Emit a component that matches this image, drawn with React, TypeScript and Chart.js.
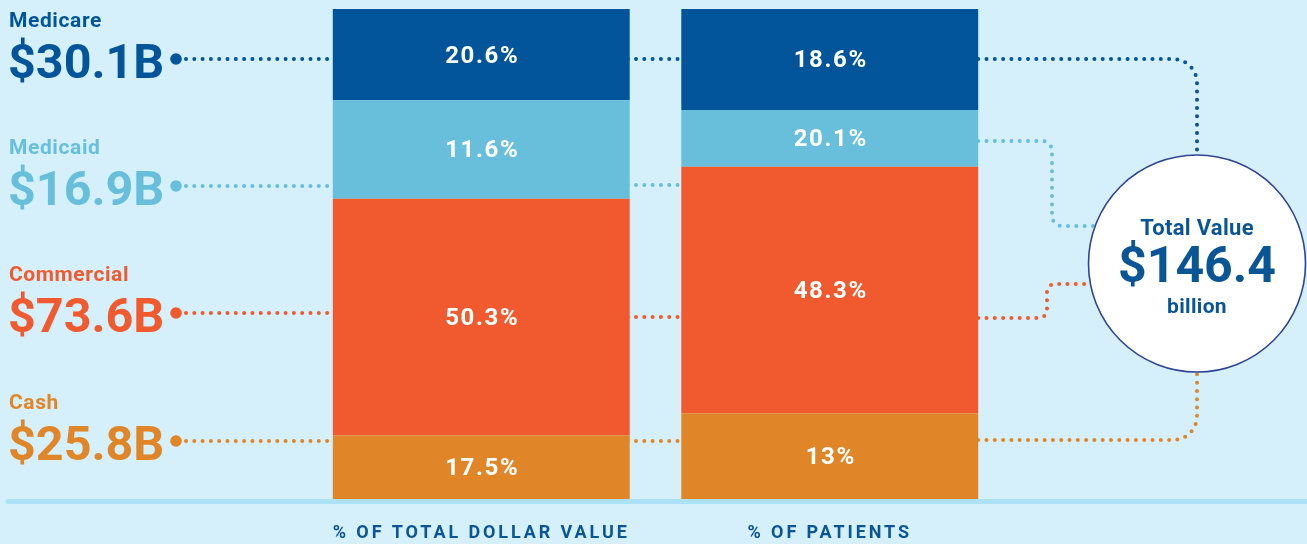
import React, { useEffect, useRef } from "react";
import { Chart, registerables } from "chart.js";

Chart.register(...registerables);

// ---- data ----
const categories = ["% OF TOTAL DOLLAR VALUE", "% OF PATIENTS"];
const payers = ["Medicare", "Medicaid", "Commercial", "Cash"];
const payerTotals = ["$30.1B", "$16.9B", "$73.6B", "$25.8B"];
// segment heights as drawn in the reference (per category)
const medicareShare = [18.6, 20.6];
const medicaidShare = [20.1, 11.6];
const commercialShare = [48.3, 50.3];
const cashShare = [13, 17.5];
// percentages printed on the segments (per category)
const medicareLabels = ["20.6%", "18.6%"];
const medicaidLabels = ["11.6%", "20.1%"];
const commercialLabels = ["50.3%", "48.3%"];
const cashLabels = ["17.5%", "13%"];
const totalTitle = "Total Value";
const totalValue = "$146.4";
const totalUnit = "billion";

// ---- styles ----
const BG = "#d5f0fb";
const C_MEDICARE = "#02559a";
const C_MEDICAID = "#67bfdc";
const C_COMMERCIAL = "#f15a2f";
const C_CASH = "#e18628";
const payerColors = [C_MEDICARE, C_MEDICAID, C_COMMERCIAL, C_CASH];
const TEXT_BLUE = "#0a5596";
const FONT = "Roboto, 'DejaVu Sans', sans-serif";

function dottedPath(ctx: CanvasRenderingContext2D, pts: number[][], color: string, r: number) {
  ctx.save();
  ctx.strokeStyle = color;
  ctx.lineWidth = 4;
  ctx.lineCap = "round";
  ctx.setLineDash([0, 8.3]);
  ctx.beginPath();
  ctx.moveTo(pts[0][0], pts[0][1]);
  for (let i = 1; i < pts.length - 1; i++) {
    ctx.arcTo(pts[i][0], pts[i][1], pts[i + 1][0], pts[i + 1][1], r);
  }
  ctx.lineTo(pts[pts.length - 1][0], pts[pts.length - 1][1]);
  ctx.stroke();
  ctx.restore();
}

const decoPlugin = {
  id: "deco",
  beforeDraw(chart: any) {
    (chart.ctx as any).letterSpacing = "2.9px";
  },
  beforeDatasetsDraw(chart: any) {
    const ctx: CanvasRenderingContext2D = chart.ctx;
    const area = chart.chartArea;
    ctx.save();
    (ctx as any).letterSpacing = "0px";
    // baseline rule
    ctx.strokeStyle = "#ace2f6";
    ctx.lineWidth = 5;
    ctx.lineCap = "round";
    ctx.beginPath();
    ctx.moveTo(8, area.bottom + 2.5);
    ctx.lineTo(1320, area.bottom + 2.5);
    ctx.stroke();

    const bar0 = chart.getDatasetMeta(0).data[0];
    const bar1 = chart.getDatasetMeta(0).data[1];
    const b0Left = bar0.x - bar0.width / 2;
    const b0Right = bar0.x + bar0.width / 2;
    const b1Left = bar1.x - bar1.width / 2;
    const b1Right = bar1.x + bar1.width / 2;

    const rowY = [59, 186, 313, 441];
    const midY = [59, 185, 317, 441];
    payers.forEach((name, i) => {
      const y = rowY[i];
      const col = payerColors[i];
      ctx.fillStyle = col;
      ctx.textAlign = "left";
      ctx.textBaseline = "alphabetic";
      (ctx as any).letterSpacing = "0.6px";
      ctx.font = `bold 21px ${FONT}`;
      ctx.fillText(name, 9, y - 32);
      (ctx as any).letterSpacing = "0px";
      ctx.font = `bold 48.5px ${FONT}`;
      ctx.fillText(payerTotals[i], 8, y + 19);
      ctx.beginPath();
      ctx.arc(176, y, 5.8, 0, Math.PI * 2);
      ctx.fill();
      dottedPath(ctx, [[186, y], [b0Left + 4, y]], col, 0);
      dottedPath(ctx, [[b0Right - 2, midY[i]], [b1Left + 4, midY[i]]], col, 0);
    });

    // connectors to the total circle
    dottedPath(ctx, [[b1Right, 59], [1197, 59], [1197, 165]], C_MEDICARE, 24);
    dottedPath(ctx, [[b1Right, 141], [1052, 141], [1052, 226], [1110, 226]], C_MEDICAID, 10);
    dottedPath(ctx, [[b1Right, 318], [1047, 318], [1047, 284], [1110, 284]], C_COMMERCIAL, 8);
    dottedPath(ctx, [[b1Right, 440], [1197, 440], [1197, 362]], C_CASH, 24);
    ctx.restore();
  },
  afterDatasetsDraw(chart: any) {
    const ctx: CanvasRenderingContext2D = chart.ctx;
    ctx.save();
    // segment labels
    const labelSets = [cashLabels, commercialLabels, medicaidLabels, medicareLabels];
    labelSets.forEach((labels, di) => {
      const meta = chart.getDatasetMeta(di);
      meta.data.forEach((el: any, j: number) => {
        const cy = (el.y + el.base) / 2;
        ctx.fillStyle = "#ffffff";
        ctx.font = `bold 24px ${FONT}`;
        (ctx as any).letterSpacing = "1.6px";
        ctx.textAlign = "center";
        ctx.textBaseline = "middle";
        ctx.fillText(labels[j], el.x + 1, cy + 2);
      });
    });

    // total circle
    const cx = 1197;
    const cy = 263.5;
    ctx.beginPath();
    ctx.arc(cx, cy, 108.5, 0, Math.PI * 2);
    ctx.fillStyle = "#ffffff";
    ctx.fill();
    ctx.lineWidth = 1.6;
    ctx.strokeStyle = "#2e4494";
    ctx.stroke();
    ctx.fillStyle = TEXT_BLUE;
    ctx.textAlign = "center";
    ctx.textBaseline = "alphabetic";
    (ctx as any).letterSpacing = "0.3px";
    ctx.font = `bold 22px ${FONT}`;
    ctx.fillText(totalTitle, cx, 235);
    (ctx as any).letterSpacing = "0px";
    ctx.font = `bold 50px ${FONT}`;
    ctx.fillText(totalValue, cx, 282);
    (ctx as any).letterSpacing = "0.3px";
    ctx.font = `bold 21px ${FONT}`;
    ctx.fillText(totalUnit, cx, 313);
    ctx.restore();
  },
};

export default function App() {
  const ref = useRef<HTMLCanvasElement | null>(null);
  useEffect(() => {
    if (!ref.current) return;
    document.body.style.margin = "0";
    document.body.style.background = BG;
    const chart = new Chart(ref.current, {
      type: "bar",
      data: {
        labels: categories,
        datasets: [
          { label: "Cash", data: cashShare, backgroundColor: C_CASH },
          { label: "Commercial", data: commercialShare, backgroundColor: C_COMMERCIAL },
          { label: "Medicaid", data: medicaidShare, backgroundColor: C_MEDICAID },
          { label: "Medicare", data: medicareShare, backgroundColor: C_MEDICARE },
        ],
      },
      options: {
        animation: false,
        responsive: false,
        maintainAspectRatio: false,
        layout: { padding: { left: 307, right: 303, top: 9, bottom: 1 } },
        datasets: { bar: { barPercentage: 0.852, categoryPercentage: 1, borderWidth: 0 } },
        plugins: { legend: { display: false }, tooltip: { enabled: false } },
        scales: {
          x: {
            stacked: true,
            grid: { display: false, drawTicks: false },
            border: { display: false },
            afterFit: (scale: any) => {
              scale.height = 44;
            },
            ticks: {
              color: TEXT_BLUE,
              font: { family: FONT, size: 18, weight: "bold" },
              padding: 24,
              maxRotation: 0,
              autoSkip: false,
            },
          },
          y: { stacked: true, display: false, min: 0, max: 100 },
        },
      },
      plugins: [decoPlugin],
    });
    return () => chart.destroy();
  }, []);
  return (
    <div style={{ position: "absolute", left: 0, top: 0, width: 1307, height: 544, background: BG }}>
      <canvas ref={ref} width={1307} height={544} style={{ display: "block" }} />
    </div>
  );
}
